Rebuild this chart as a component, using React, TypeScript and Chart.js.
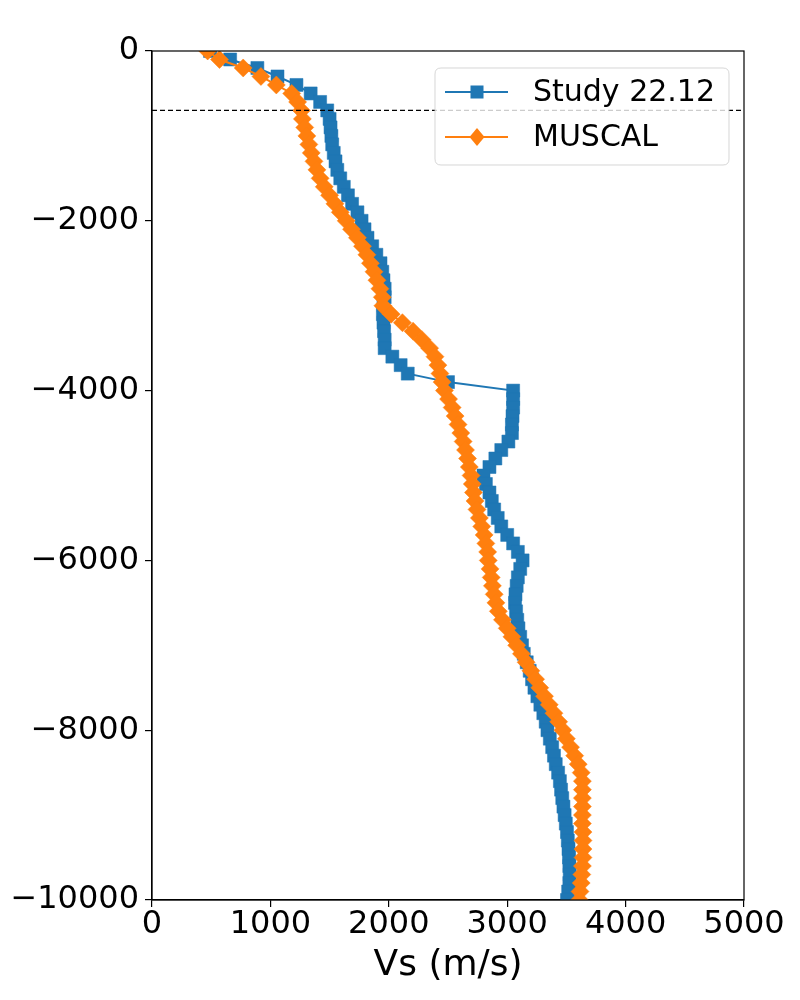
import React, { useEffect, useRef } from "react";
import { Chart, registerables } from "chart.js";

Chart.register(...registerables);

// Depth (m) of each sample, top to bottom
const depths = [
  0, -100, -200, -300, -400, -500, -600, -700, -800, -900,
  -1000, -1100, -1200, -1300, -1400, -1500, -1600, -1700, -1800, -1900,
  -2000, -2100, -2200, -2300, -2400, -2500, -2600, -2700, -2800, -2900,
  -3000, -3100, -3200, -3300, -3400, -3500, -3600, -3700, -3800, -3900,
  -4000, -4100, -4200, -4300, -4400, -4500, -4600, -4700, -4800, -4900,
  -5000, -5100, -5200, -5300, -5400, -5500, -5600, -5700, -5800, -5900,
  -6000, -6100, -6200, -6300, -6400, -6500, -6600, -6700, -6800, -6900,
  -7000, -7100, -7200, -7300, -7400, -7500, -7600, -7700, -7800, -7900,
  -8000, -8100, -8200, -8300, -8400, -8500, -8600, -8700, -8800, -8900,
  -9000, -9100, -9200, -9300, -9400, -9500, -9600, -9700, -9800, -9900,
  -10000,
];

// Vs (m/s) — Study 22.12
const studyVs = [
  490, 660, 890, 1060, 1220, 1340, 1420, 1480, 1500, 1508,
  1515, 1522, 1535, 1550, 1565, 1590, 1620, 1655, 1690, 1735,
  1770, 1795, 1820, 1860, 1895, 1930, 1945, 1955, 1965, 1965,
  1955, 1950, 1955, 1960, 1965, 1965, 2030, 2100, 2160, 2500,
  3050, 3050, 3050, 3045, 3040, 3040, 3010, 2950, 2900, 2850,
  2800, 2820, 2850, 2870, 2890, 2920, 2950, 3000, 3050, 3090,
  3130, 3110, 3090, 3080, 3070, 3066, 3075, 3085, 3095, 3110,
  3125, 3140, 3165, 3190, 3210, 3230, 3255, 3280, 3305, 3325,
  3340, 3360, 3380, 3395, 3410, 3430, 3445, 3455, 3465, 3475,
  3485, 3495, 3505, 3512, 3518, 3522, 3525, 3528, 3525, 3515,
  3505,
];

// Vs (m/s) — MUSCAL
const muscalVs = [
  470, 570, 770, 920, 1050, 1180, 1230, 1262, 1270, 1290,
  1308, 1325, 1345, 1368, 1393, 1420, 1455, 1500, 1545, 1590,
  1640, 1685, 1735, 1778, 1815, 1845, 1875, 1900, 1925, 1945,
  1950, 2020, 2115, 2205, 2280, 2345, 2390, 2415, 2432, 2450,
  2470, 2505, 2535, 2560, 2585, 2608, 2628, 2648, 2665, 2680,
  2695, 2705, 2715, 2728, 2745, 2765, 2785, 2805, 2820, 2835,
  2840, 2855, 2865, 2875, 2890, 2905, 2925, 2960, 3000, 3040,
  3080, 3120, 3160, 3200, 3240, 3275, 3315, 3355, 3395, 3435,
  3470, 3500, 3535, 3570, 3600, 3625, 3635, 3635, 3635, 3635,
  3635, 3635, 3640, 3640, 3640, 3640, 3635, 3630, 3625, 3615,
  3610,
];

// Reference depth line (m)
const refDepth = -700;
const xRange = [0, 5000];
const yRange = [-10000, 0];
const seriesLabels = ["Study 22.12", "MUSCAL"];
const seriesColors = ["#1f77b4", "#ff7f0e"];

const FONT = "'DejaVu Sans', sans-serif";

const fmt = (v: number) => (v < 0 ? "\u2212" + Math.abs(v) : String(v));

export default function App() {
  const ref = useRef<HTMLCanvasElement | null>(null);

  useEffect(() => {
    document.body.style.margin = "0";
    const canvas = ref.current;
    if (!canvas) return;

    const framePlugin = {
      id: "frameAndLegend",
      afterDraw(chart: any) {
        const { ctx, chartArea } = chart;
        ctx.save();
        // full frame
        ctx.strokeStyle = "#000";
        ctx.lineWidth = 1.2;
        ctx.strokeRect(chartArea.left, chartArea.top, chartArea.right - chartArea.left, chartArea.bottom - chartArea.top);

        // legend
        const w = 294, h = 97;
        const x0 = chartArea.right - 15 - w;
        const y0 = chartArea.top + 17;
        const r = 6;
        ctx.beginPath();
        ctx.moveTo(x0 + r, y0);
        ctx.lineTo(x0 + w - r, y0);
        ctx.quadraticCurveTo(x0 + w, y0, x0 + w, y0 + r);
        ctx.lineTo(x0 + w, y0 + h - r);
        ctx.quadraticCurveTo(x0 + w, y0 + h, x0 + w - r, y0 + h);
        ctx.lineTo(x0 + r, y0 + h);
        ctx.quadraticCurveTo(x0, y0 + h, x0, y0 + h - r);
        ctx.lineTo(x0, y0 + r);
        ctx.quadraticCurveTo(x0, y0, x0 + r, y0);
        ctx.closePath();
        ctx.fillStyle = "rgba(255,255,255,0.8)";
        ctx.fill();
        ctx.strokeStyle = "rgba(204,204,204,0.8)";
        ctx.lineWidth = 1;
        ctx.stroke();

        const rows = [y0 + 24, y0 + 69];
        seriesLabels.forEach((lab, i) => {
          const y = rows[i];
          ctx.strokeStyle = seriesColors[i];
          ctx.lineWidth = 2;
          ctx.beginPath();
          ctx.moveTo(x0 + 10, y);
          ctx.lineTo(x0 + 73, y);
          ctx.stroke();
          ctx.fillStyle = seriesColors[i];
          const cx = x0 + 42;
          if (i === 0) {
            ctx.fillRect(cx - 6.5, y - 6.5, 13, 13);
          } else {
            ctx.beginPath();
            ctx.moveTo(cx, y - 9);
            ctx.lineTo(cx + 7.5, y);
            ctx.lineTo(cx, y + 9);
            ctx.lineTo(cx - 7.5, y);
            ctx.closePath();
            ctx.fill();
          }
          ctx.fillStyle = "#000";
          ctx.font = `30px ${FONT}`;
          ctx.textAlign = "left";
          ctx.textBaseline = "middle";
          ctx.fillText(lab, x0 + 98, y + 1);
        });
        ctx.restore();
      },
    };

    const chart = new Chart(canvas, {
      type: "scatter",
      data: {
        datasets: [
          {
            label: "ref",
            data: [
              { x: xRange[0], y: refDepth },
              { x: xRange[1], y: refDepth },
            ],
            showLine: true,
            borderColor: "#000",
            borderWidth: 1.2,
            borderDash: [5, 3],
            pointRadius: 0,
            order: 0,
            clip: 0,
          } as any,
          {
            label: seriesLabels[0],
            data: depths.map((d, i) => ({ x: studyVs[i], y: d })),
            showLine: true,
            borderColor: seriesColors[0],
            backgroundColor: seriesColors[0],
            borderWidth: 2,
            pointStyle: "rect",
            pointRadius: 9.2,
            pointBorderWidth: 0.5,
            pointBorderColor: seriesColors[0],
            pointBackgroundColor: seriesColors[0],
            order: 2,
            clip: 0,
          } as any,
          {
            label: seriesLabels[1],
            data: depths.map((d, i) => ({ x: muscalVs[i], y: d })),
            showLine: true,
            borderColor: seriesColors[1],
            backgroundColor: seriesColors[1],
            borderWidth: 2,
            pointStyle: "rectRot",
            pointRadius: 9,
            pointBorderWidth: 0.5,
            pointBorderColor: seriesColors[1],
            pointBackgroundColor: seriesColors[1],
            order: 1,
            clip: 0,
          } as any,
        ],
      },
      options: {
        responsive: false,
        animation: false,
        devicePixelRatio: 1,
        layout: { padding: { top: 51, right: 56, left: 0, bottom: 0 } },
        plugins: { legend: { display: false }, tooltip: { enabled: false } },
        scales: {
          x: {
            type: "linear",
            min: xRange[0],
            max: xRange[1],
            afterFit(scale: any) {
              scale.height = 100;
            },
            ticks: {
              stepSize: 1000,
              color: "#000",
              font: { family: FONT, size: 32 },
              padding: -2,
              maxRotation: 0,
              callback: (v: any) => fmt(Number(v)),
            },
            grid: { drawOnChartArea: false, tickLength: 7, color: "#000", lineWidth: 1.2 },
            border: { display: true, color: "#000", width: 1.2 },
            title: {
              display: true,
              text: "Vs (m/s)",
              color: "#000",
              font: { family: FONT, size: 36 },
              padding: { top: 0, bottom: 13 },
            },
          },
          y: {
            type: "linear",
            min: yRange[0],
            max: yRange[1],
            afterFit(scale: any) {
              scale.width = 152;
            },
            ticks: {
              stepSize: 2000,
              color: "#000",
              font: { family: FONT, size: 32 },
              padding: 6,
              callback: (v: any) => fmt(Number(v)),
            },
            grid: { drawOnChartArea: false, tickLength: 7, color: "#000", lineWidth: 1.2 },
            border: { display: true, color: "#000", width: 1.2 },
          },
        },
      },
      plugins: [framePlugin],
    } as any);

    return () => chart.destroy();
  }, []);

  return <canvas ref={ref} width={800} height={1000} style={{ display: "block" }} />;
}
